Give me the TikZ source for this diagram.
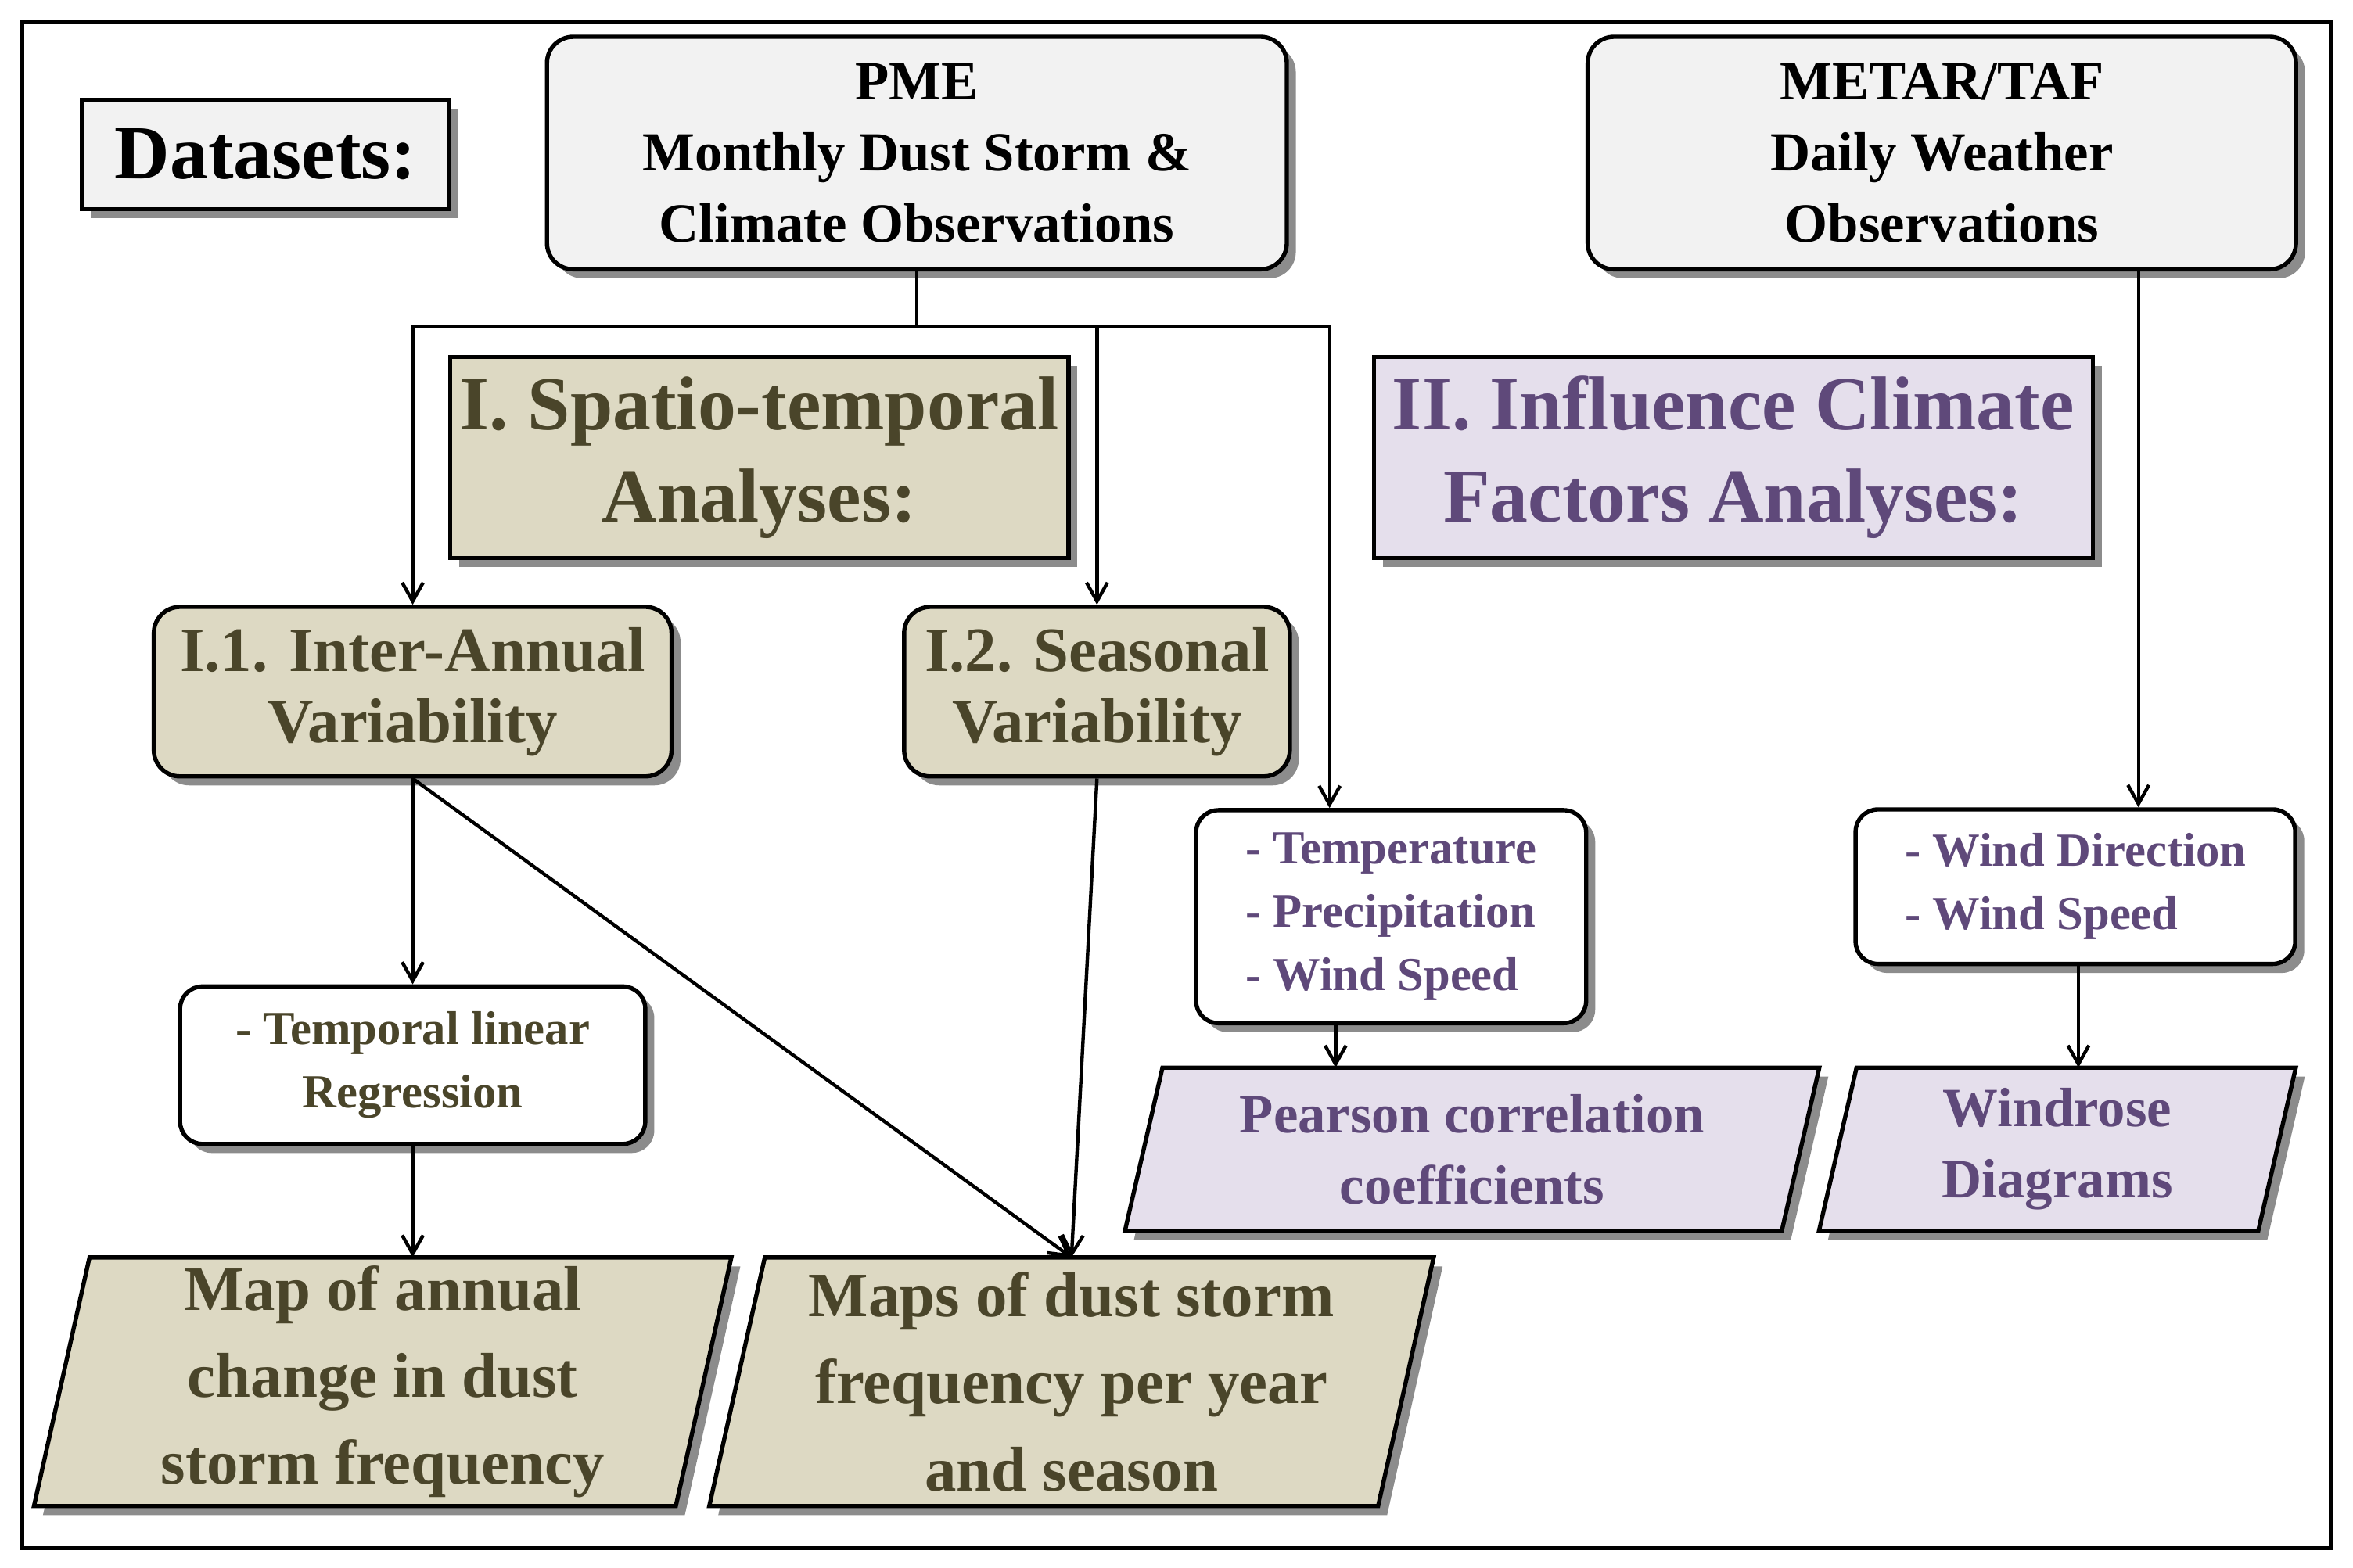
\documentclass[tikz,border=0pt]{standalone}
\usepackage{fontspec}
\setmainfont{Liberation Serif}
\usetikzlibrary{shadows,calc,arrows.meta}
\definecolor{olive}{HTML}{DDD9C3}
\definecolor{olivetx}{HTML}{4A452A}
\definecolor{lav}{HTML}{E5DFEC}
\definecolor{lavtx}{HTML}{5F497A}
\definecolor{lgray}{HTML}{F2F2F2}
\begin{document}
\begin{tikzpicture}[x=0.02cm,y=-0.02cm,
  shd/.style={drop shadow={shadow xshift=0.12cm,shadow yshift=-0.12cm,fill=black!45,opacity=1}},
  box/.style={draw,line width=1.6pt,shd,align=center,inner sep=0pt,font=\fontsize{21}{27}\selectfont\bfseries},
  rbox/.style={box,rounded corners=0.35cm},
  big/.style={font=\fontsize{29}{35}\selectfont\bfseries},
  mid/.style={font=\fontsize{24}{27}\selectfont\bfseries},
  sm/.style={font=\fontsize{18}{24}\selectfont\bfseries},
  arr/.style={-{Straight Barb[length=0.25cm,width=0.28cm]},line width=1.3pt},
  ln/.style={line width=1.3pt},
  para/.style={draw=none,align=center,inner sep=0pt,font=\fontsize{21}{27}\selectfont\bfseries}]
\path[fill=white] (0,0) rectangle (1568,1045);
\draw[line width=1.6pt] (15,15) rectangle (1553,1032);
% datasets
\node[box,fill=lgray,big,minimum width=245*0.02cm,minimum height=73*0.02cm] (ds) at (177,103) {Datasets:};
\node[rbox,fill=lgray,minimum width=493*0.02cm,minimum height=155*0.02cm] (pme) at (611,102) {PME\\Monthly Dust Storm \&\\Climate Observations};
\node[rbox,fill=lgray,minimum width=472*0.02cm,minimum height=155*0.02cm] (met) at (1294,102) {METAR/TAF\\Daily Weather\\Observations};
% headings
\node[box,fill=olive,text=olivetx,big,minimum width=412*0.02cm,minimum height=134*0.02cm] (h1) at (506,305) {I. Spatio-temporal\\Analyses:};
\node[box,fill=lav,text=lavtx,big,minimum width=479*0.02cm,minimum height=134*0.02cm] (h2) at (1155,305) {II. Influence Climate\\Factors Analyses:};
% level boxes
\node[rbox,fill=olive,text=olivetx,mid,minimum width=345*0.02cm,minimum height=113*0.02cm] (i1) at (275,461) {I.1. Inter-Annual\\Variability};
\node[rbox,fill=olive,text=olivetx,mid,minimum width=257*0.02cm,minimum height=113*0.02cm] (i2) at (731,461) {I.2. Seasonal\\Variability};
\node[rbox,fill=white,text=lavtx,sm,align=left,minimum width=260*0.02cm,minimum height=142*0.02cm,rounded corners=0.3cm] (tp) at (927,611) {- Temperature\\- Precipitation\\- Wind Speed};
\node[rbox,fill=white,text=lavtx,sm,align=left,minimum width=293*0.02cm,minimum height=103*0.02cm,rounded corners=0.3cm] (wd) at (1383,591) {- Wind Direction\\- Wind Speed};
\node[rbox,fill=white,text=olivetx,sm,minimum width=310*0.02cm,minimum height=105*0.02cm,rounded corners=0.3cm] (tl) at (275,710) {- Temporal linear\\Regression};
% parallelograms
\newcommand{\pgram}[3]{%
  \draw[line width=1.6pt,fill=#3,shd] ($(#1.north west)+(#2,0)$) -- (#1.north east) -- ($(#1.south east)-(#2,0)$) -- (#1.south west) -- cycle;}
\node[para,minimum width=462*0.02cm,minimum height=108*0.02cm] (pc) at (981,766) {};
\pgram{pc}{25}{lav}
\node[para,text=lavtx] at (pc) {Pearson correlation\\coefficients};
\node[para,minimum width=317*0.02cm,minimum height=108*0.02cm] (wr) at (1371,766) {};
\pgram{wr}{25}{lav}
\node[para,text=lavtx] at (wr) {Windrose\\Diagrams};
\node[para,minimum width=464*0.02cm,minimum height=165*0.02cm] (ma) at (255,921) {};
\pgram{ma}{37}{olive}
\node[para,text=olivetx,font=\fontsize{24}{33}\selectfont\bfseries] at (ma) {Map of annual\\change in dust\\storm frequency};
\node[para,minimum width=482*0.02cm,minimum height=165*0.02cm] (md) at (714,921) {};
\pgram{md}{37}{olive}
\node[para,text=olivetx,font=\fontsize{24}{33}\selectfont\bfseries] at (md) {Maps of dust storm\\frequency per year\\and season};
% connectors
\coordinate (j) at (611,218);
\draw[ln] (pme.south) -- (j);
\draw[arr] (j) -| (i1.north);
\draw[arr] (j) -| (i2.north);
\draw[arr] (j) -| (tp.north -| 886,0);
\draw[arr] (met.south -| 1425,0) -- (wd.north -| 1425,0);
\draw[arr] (i1.south) -- (tl.north);
\draw[arr] (tl.south) -- (ma.north -| tl.south);
\draw[arr] (i1.south) -- (md.north);
\draw[arr] (i2.south) -- (md.north);
\draw[arr] (tp.south -| 890,0) -- (pc.north -| 890,0);
\draw[arr] (wd.south -| 1385,0) -- (wr.north -| 1385,0);
\end{tikzpicture}
\end{document}
